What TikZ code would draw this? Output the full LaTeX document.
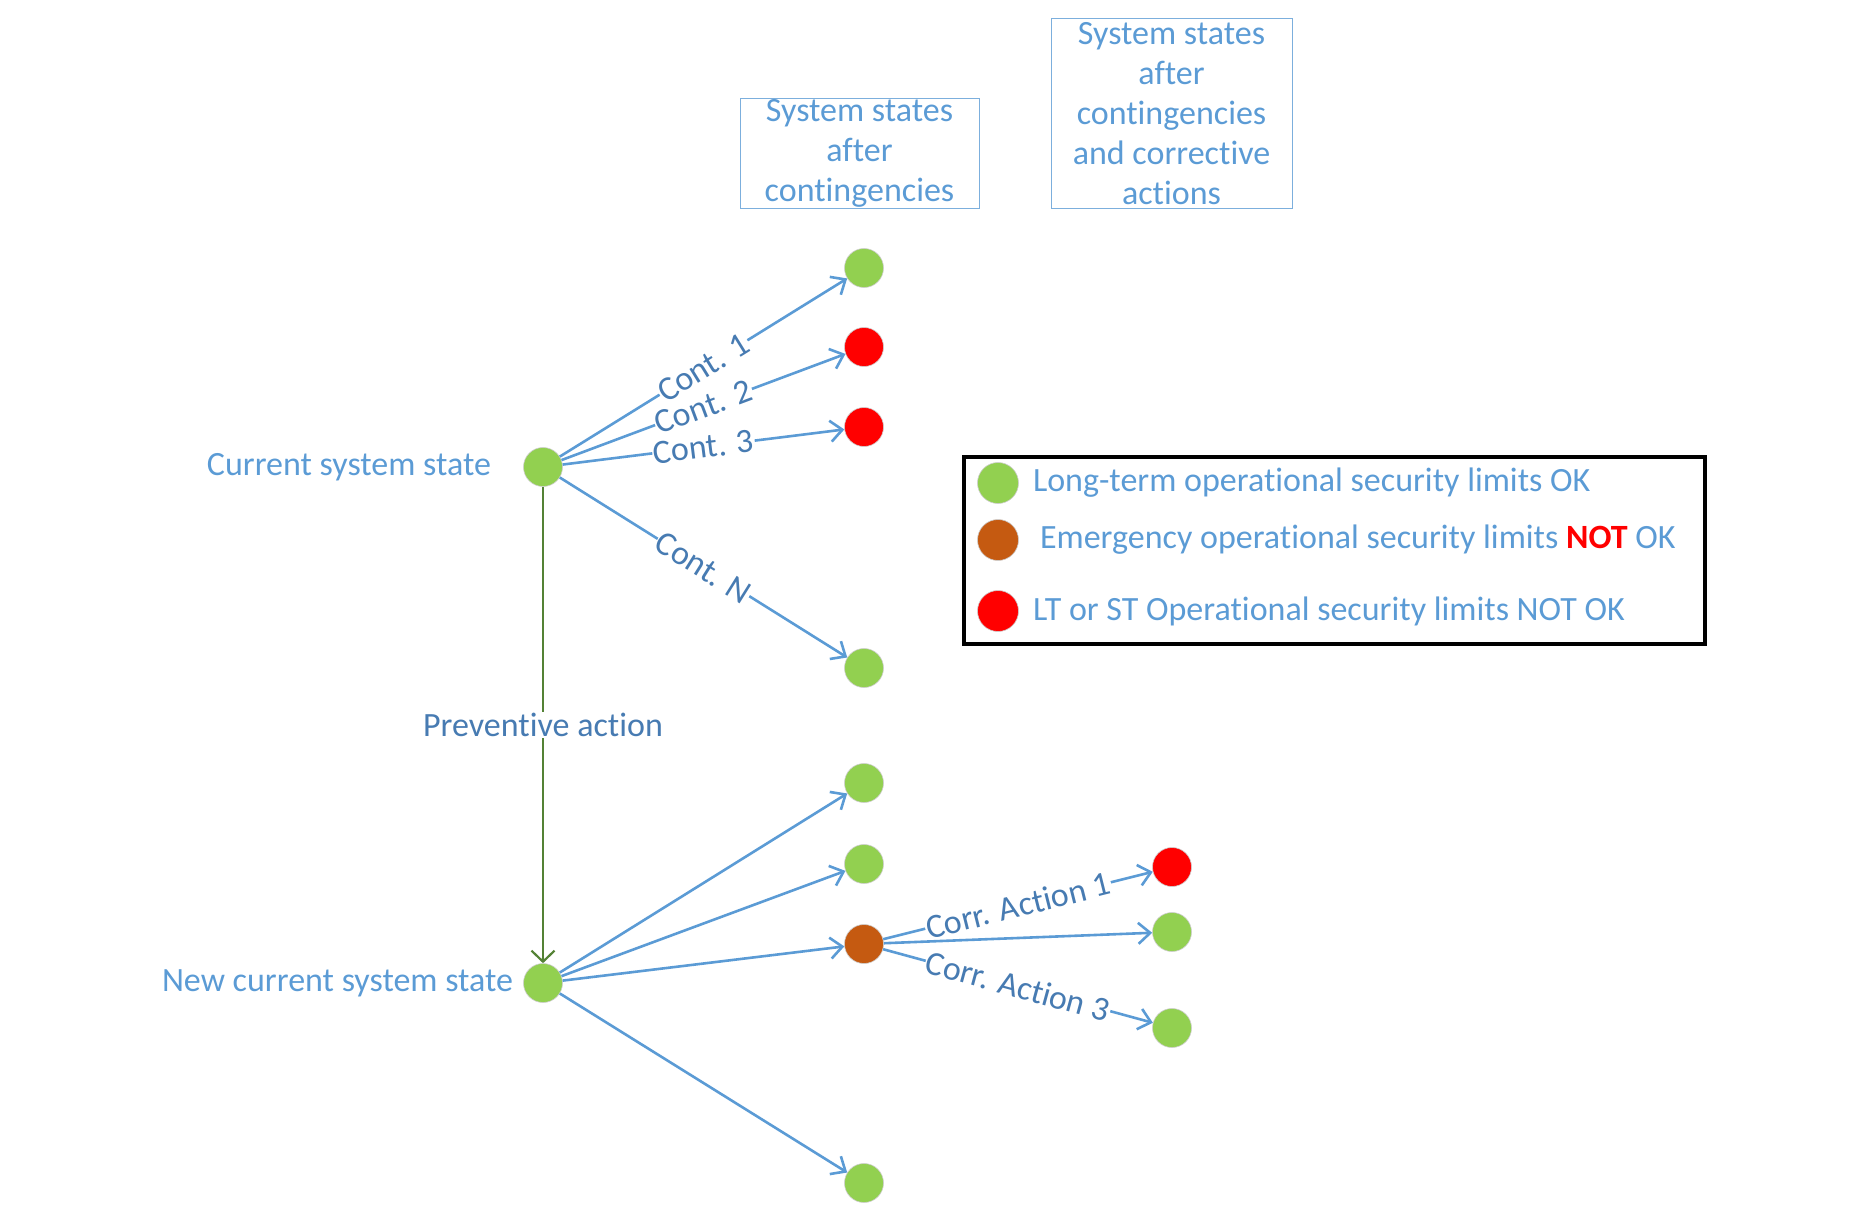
\documentclass[tikz,border=0pt]{standalone}
\usepackage{fontspec}
\setmainfont{Carlito}[Ligatures=NoCommon]
\usetikzlibrary{arrows.meta,positioning}
\definecolor{bleu}{HTML}{5B9BD5}
\definecolor{bleufonce}{HTML}{477BB2}
\definecolor{vert}{HTML}{92D050}
\definecolor{rouge}{HTML}{FF0000}
\definecolor{brun}{HTML}{C55A11}
\definecolor{vertfonce}{HTML}{548235}
\begin{document}
\begin{tikzpicture}[x=1pt,y=1pt,font=\fontsize{34}{40}\selectfont]  % 1pt = 1 pixel
\tikzstyle{etat}=[circle,minimum size=39pt,inner sep=0pt,draw=black!20,line width=0.6pt]
\tikzstyle{fleche}=[draw=bleu,line width=2.6pt,-{Straight Barb[length=12pt,width=21pt]}]
\tikzstyle{lab}=[sloped,fill=white,text=bleufonce,inner sep=1pt]
\tikzstyle{cadre}=[draw=bleu!80,line width=1pt,text=bleu,align=center,inner sep=0pt]
\useasboundingbox (0,0) rectangle (1850,-1220);
% les titres
\node[cadre,minimum width=239pt,minimum height=109pt] (titre1) at (859.5,-153.5) {System states\\after\\contingencies};
\node[cadre,minimum width=241pt,minimum height=189pt] (titre2) at (1171.5,-113.5) {System states\\after\\contingencies\\and corrective\\actions};
% les etats
\node[etat,fill=vert] (cur) at (543,-467) {};
\node[left=32pt of cur,inner sep=0pt,text=bleu] (lcur) {Current system state};
\node[etat,fill=vert] (new) at (543,-983) {};
\node[left=10pt of new,inner sep=0pt,text=bleu] (lnew) {New current system state};
\node[etat,fill=vert] (c1) at (864,-268) {};
\node[etat,fill=rouge] (c2) at (864,-347) {};
\node[etat,fill=rouge] (c3) at (864,-427) {};
\node[etat,fill=vert] (cN) at (864,-668) {};
\node[etat,fill=vert] (n1) at (864,-783) {};
\node[etat,fill=vert] (n2) at (864,-864) {};
\node[etat,fill=brun] (n3) at (864,-944) {};
\node[etat,fill=vert] (n4) at (864,-1183) {};
\node[etat,fill=rouge] (a1) at (1172,-867) {};
\node[etat,fill=vert] (a2) at (1172,-932) {};
\node[etat,fill=vert] (a3) at (1172,-1028) {};
% les fleches
\draw[vertfonce,line width=2.2pt,-{Straight Barb[length=11pt,width=23pt]}] (cur) -- node[fill=white,text=bleufonce,inner sep=1pt] {Preventive action} (new);
\draw[fleche] (cur) -- node[lab] {Cont. 1} (c1);
\draw[fleche] (cur) -- node[lab] {Cont. 2} (c2);
\draw[fleche] (cur) -- node[lab] {Cont. 3} (c3);
\draw[fleche] (cur) -- node[lab] {Cont. N} (cN);
\draw[fleche] (new) -- (n1);
\draw[fleche] (new) -- (n2);
\draw[fleche] (new) -- (n3);
\draw[fleche] (new) -- (n4);
\draw[fleche] (n3) -- node[lab] {Corr. Action 1} (a1);
\draw[fleche] (n3) -- (a2);
\draw[fleche] (n3) -- node[lab] {Corr. Action 3} (a3);
% la legende
\node[draw=black,line width=3.5pt,minimum width=741pt,minimum height=187pt] (leg) at (1334.5,-550.5) {};
\node[etat,fill=vert,minimum size=41pt] (lv) at (998,-483) {};
\node[right=14pt of lv,inner sep=0pt,text=bleu] (tv) {Long-term operational security limits OK};
\node[etat,fill=brun,minimum size=41pt] (lb) at (998,-540) {};
\node[right=21pt of lb,inner sep=0pt,text=bleu] (tb) {Emergency operational security limits {\bfseries\color{rouge}NOT} OK};
\node[etat,fill=rouge,minimum size=41pt] (lr) at (998,-611) {};
\node[right=14pt of lr,inner sep=0pt,text=bleu] (tr) {LT or ST Operational security limits NOT OK};
\end{tikzpicture}
\end{document}
